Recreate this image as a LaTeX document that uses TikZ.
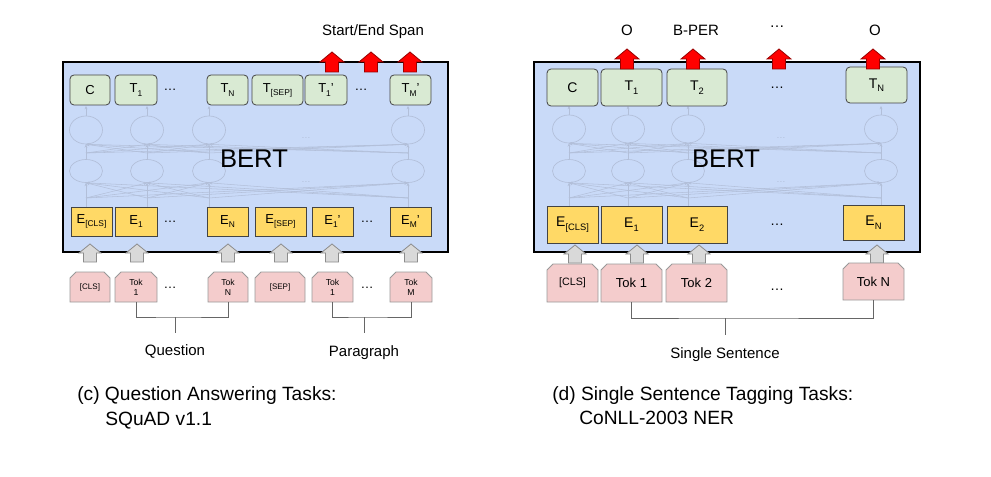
\documentclass[tikz,border=0pt]{standalone}
\usepackage{fontspec}
\setmainfont{Liberation Sans}
\usetikzlibrary{arrows.meta,shapes.geometric}

\definecolor{bertblue}{HTML}{C9DAF8}
\definecolor{tgreen}{HTML}{D9EAD3}
\definecolor{eyellow}{HTML}{FFD966}
\definecolor{tpink}{HTML}{F4CCCC}
\definecolor{garrfill}{HTML}{D9D9D9}
\definecolor{garrline}{HTML}{8C8C8C}
\definecolor{rarrfill}{HTML}{FF0000}
\definecolor{rarrline}{HTML}{980000}
\definecolor{faint}{RGB}{178,191,217}
\definecolor{boxline}{HTML}{434343}
\definecolor{tokline}{HTML}{999999}
\definecolor{brk}{HTML}{666666}

\newcommand\lsb[1]{\raisebox{-2.3pt}{\fontsize{6.3}{7}\selectfont #1}}
\newcommand\rsb[1]{\raisebox{-2.6pt}{\fontsize{7}{8}\selectfont #1}}

\tikzset{
  sz/.style 2 args={minimum width=#1*0.75pt, minimum height=#2*0.75pt},
  bertbox/.style={draw=black, line width=1.5pt, fill=bertblue, inner sep=0pt},
  tbox/.style={draw=boxline, fill=tgreen, rounded corners=3pt, line width=0.6pt, inner sep=0pt},
  ebox/.style={draw=boxline, fill=eyellow, line width=0.6pt, inner sep=0pt},
  tokst/.style={draw=tokline, fill=tpink, line width=0.6pt},
  tokbox/.style={inner sep=0pt, align=center},
  lfont/.style={font=\fontsize{9.75}{11}\selectfont},
  rfont/.style={font=\fontsize{10.5}{12}\selectfont},
  ltokfont/.style={font=\fontsize{6.5}{7.5}\selectfont},
  ltokfontb/.style={font=\fontsize{6}{7}\selectfont},
  rtokfont/.style={font=\fontsize{9.75}{11}\selectfont},
  rtokfontb/.style={font=\fontsize{8}{9}\selectfont},
  lab/.style={font=\fontsize{11.25}{13}\selectfont, anchor=base, inner sep=0pt},
  capt/.style={font=\fontsize{14.4}{17}\selectfont, anchor=base west, inner sep=0pt},
  bert/.style={font=\fontsize{19.2}{22}\selectfont, anchor=base, inner sep=0pt},
  dotsn/.style={inner sep=0pt},
  fdots/.style={inner sep=0pt, text=faint, font=\fontsize{7}{8}\selectfont},
  ellu/.style={ellipse, draw=faint, line width=0.5pt, sz={33}{28}, inner sep=0pt},
  elll/.style={ellipse, draw=faint, line width=0.5pt, sz={33}{23}, inner sep=0pt},
  faintarr/.style={draw=faint, line width=0.4pt, -{Stealth[length=2.5pt,width=2.2pt]}},
  brkline/.style={draw=brk, line width=0.6pt},
  garr/.style={draw=garrline, fill=garrfill, line width=0.6pt},
  rarr/.style={draw=rarrline, fill=rarrfill, line width=0.6pt},
  grayup/.pic={\path[garr] (0,0) -- (11,9) -- (6.5,9) -- (6.5,18) -- (-6.5,18) -- (-6.5,9) -- (-11,9) -- cycle;},
  redup/.pic={\path[rarr] (0,0) -- (12,10) -- (6.5,10) -- (6.5,20) -- (-6.5,20) -- (-6.5,10) -- (-12,10) -- cycle;},
}

% #1 name, #2 x, #3 y, #4 w, #5 h, #6 style, #7 text
\newcommand\tokk[7]{%
  \path[tokst] ({#2-#4/2},{#3+#5/2}) -- ({#2-#4/2},{#3-#5/2+6}) -- ({#2-#4/2+6},{#3-#5/2})
    -- ({#2+#4/2-6},{#3-#5/2}) -- ({#2+#4/2},{#3-#5/2+6}) -- ({#2+#4/2},{#3+#5/2}) -- cycle;
  \node[tokbox, sz={#4}{#5}, #6] (#1) at (#2,#3) {#7};%
}

\begin{document}
\begin{tikzpicture}[x=0.75pt, y=-0.75pt]
\useasboundingbox (0,0) rectangle (991,477);

%================ LEFT PANEL ================
\node[bertbox, sz={385}{190}] (lbert) at (255.5,157) {};

\foreach \i/\x in {1/86,2/147,3/209,4/408} {
  \node[ellu] (lu\i) at (\x,130) {};
  \node[elll] (ll\i) at (\x,171) {};
  \coordinate (le\i) at (\x,207);
  \coordinate (lb\i) at (\x,198);
  \coordinate (lm\i) at (\x,153);
  \coordinate (lt\i) at (\x,106);
}
\foreach \i in {1,...,4} {
  \draw[faintarr] (lu\i.north) -- (lt\i);
  \draw[faintarr] (ll\i.north) -- (lu\i.south);
  \draw[faintarr] (le\i) -- (ll\i.south);
  \foreach \j in {1,...,4} {
    \ifnum\i=\j\else
      \draw[faintarr] (lm\j) -- (lu\i.south);
      \draw[faintarr] (lb\j) -- (ll\i.south);
    \fi
  }
}
\node[fdots] (lfd1) at (306,138) {…};
\node[fdots] (lfd2) at (306,182) {…};
\node[bert] (lbtext) at (254,168) {BERT};

\node[tbox, sz={40}{30}, lfont] (lT0) at (90,90) {C};
\node[tbox, sz={42}{30}, lfont] (lT1) at (136,90) {T\lsb{1}};
\node[dotsn, lfont] (lTd1) at (170,90) {…};
\node[tbox, sz={41}{30}, lfont] (lTN) at (227.5,90) {T\lsb{N}};
\node[tbox, sz={51}{30}, lfont] (lTS) at (277.5,90) {T\lsb{[SEP]}};
\node[tbox, sz={42}{30}, lfont] (lT1p) at (326,90) {T\lsb{1}'};
\node[dotsn, lfont] (lTd2) at (361,90) {…};
\node[tbox, sz={41}{30}, lfont] (lTM) at (410.5,90) {T\lsb{M}'};

\node[ebox, sz={41}{29}, lfont] (lE0) at (91.5,221.5) {E\lsb{[CLS]}};
\node[ebox, sz={42}{29}, lfont] (lE1) at (136,221.5) {E\lsb{1}};
\node[dotsn, lfont] (lEd1) at (170,222) {…};
\node[ebox, sz={41}{29}, lfont] (lEN) at (227.5,221.5) {E\lsb{N}};
\node[ebox, sz={51}{29}, lfont] (lES) at (280.5,221.5) {E\lsb{[SEP]}};
\node[ebox, sz={41}{29}, lfont] (lE1p) at (332.5,221.5) {E\lsb{1}'};
\node[dotsn, lfont] (lEd2) at (367,222) {…};
\node[ebox, sz={41}{29}, lfont] (lEM) at (410.5,221.5) {E\lsb{M}'};

\foreach \x in {332,371,410} { \pic at (\x,52) {redup}; }
\node[lab] (span) at (373,36) {Start/End Span};

\foreach \x in {90,137,228,281,332,411} { \pic at (\x,244) {grayup}; }

\tokk{lk0}{90}{287}{40}{30}{ltokfontb}{[CLS]}
\tokk{lk1}{136}{287}{42}{30}{ltokfont}{Tok\\1}
\node[dotsn, lfont] (lkd1) at (170,288) {…};
\tokk{lkN}{228}{287}{40}{30}{ltokfont}{Tok\\N}
\tokk{lkS}{280}{287}{50}{30}{ltokfontb}{[SEP]}
\tokk{lk1p}{332.5}{287}{41}{30}{ltokfont}{Tok\\1}
\node[dotsn, lfont] (lkd2) at (367,288) {…};
\tokk{lkM}{411}{287}{42}{30}{ltokfont}{Tok\\M}

\coordinate (qj) at (175,317);
\coordinate (qt) at (175,333);
\draw[brkline] (lk1.south) |- (qj) -| (lkN.south);
\draw[brkline] (qj) -- (qt);
\node[lab] (question) at (175,355) {Question};

\coordinate (pj) at (364,317);
\coordinate (pt) at (364,333);
\draw[brkline] (lk1p.south) |- (pj) -| (lkM.south);
\draw[brkline] (pj) -- (pt);
\node[lab] (paragraph) at (364,356.5) {Paragraph};

\node[capt] (capc1) at (77,400) {(c) Question Answering Tasks:};
\node[capt] (capc2) at (105,425) {SQuAD v1.1};

%================ RIGHT PANEL ================
\node[bertbox, sz={386}{190}] (rbert) at (727,157) {};

\foreach \i/\x in {1/569,2/628,3/688,4/881} {
  \node[ellu] (ru\i) at (\x,129) {};
  \node[elll] (rl\i) at (\x,171) {};
  \coordinate (re\i) at (\x,206);
  \coordinate (rb\i) at (\x,198);
  \coordinate (rm\i) at (\x,153);
  \coordinate (rt\i) at (\x,106);
}
\foreach \i in {1,...,4} {
  \draw[faintarr] (ru\i.north) -- (rt\i);
  \draw[faintarr] (rl\i.north) -- (ru\i.south);
  \draw[faintarr] (re\i) -- (rl\i.south);
  \foreach \j in {1,...,4} {
    \ifnum\i=\j\else
      \draw[faintarr] (rm\j) -- (ru\i.south);
      \draw[faintarr] (rb\j) -- (rl\i.south);
    \fi
  }
}
\node[fdots] (rfd1) at (781,138) {…};
\node[fdots] (rfd2) at (781,182) {…};
\node[bert] (rbtext) at (726,168) {BERT};

\node[tbox, sz={51}{37}, rfont] (rT0) at (572.5,87.5) {C};
\node[tbox, sz={61}{37}, rfont] (rT1) at (631.5,87.5) {T\rsb{1}};
\node[tbox, sz={60}{37}, rfont] (rT2) at (697,87.5) {T\rsb{2}};
\node[dotsn, rfont] (rTd) at (777,88) {…};
\node[tbox, sz={61}{36}, rfont] (rTN) at (876.5,85) {T\rsb{N}};

\node[ebox, sz={51}{37}, rfont] (rE0) at (572.5,224.5) {E\rsb{[CLS]}};
\node[ebox, sz={61}{37}, rfont] (rE1) at (631.5,224.5) {E\rsb{1}};
\node[ebox, sz={60}{37}, rfont] (rE2) at (697,224.5) {E\rsb{2}};
\node[dotsn, rfont] (rEd) at (777,225) {…};
\node[ebox, sz={61}{35}, rfont] (rEN) at (873.5,222.5) {E\rsb{N}};

\foreach \x in {627,693,779,873} { \pic at (\x,49) {redup}; }
\node[lab] (o1) at (627,36) {O};
\node[lab] (bper) at (696,36) {B-PER};
\node[lab] (odots) at (777,28) {…};
\node[lab] (o2) at (875,36) {O};

\foreach \x in {575,637,699,877} { \pic at (\x,245) {grayup}; }

\tokk{rk0}{572.5}{283}{51}{38}{rtokfontb}{[CLS]}
\tokk{rk1}{631.5}{283}{61}{38}{rtokfont}{Tok 1}
\tokk{rk2}{696.5}{283}{61}{38}{rtokfont}{Tok 2}
\node[dotsn, rfont] (rkd) at (777,290) {…};
\tokk{rkN}{873.5}{281.5}{61}{37}{rtokfont}{Tok N}

\coordinate (sj) at (725,318);
\coordinate (st) at (725,335);
\draw[brkline] (rk1.south) |- (sj) -| (rkN.south);
\draw[brkline] (sj) -- (st);
\node[lab] (single) at (725,358) {Single Sentence};

\node[capt] (capd1) at (552,400) {(d) Single Sentence Tagging Tasks:};
\node[capt] (capd2) at (579,424) {CoNLL-2003 NER};
\end{tikzpicture}
\end{document}
